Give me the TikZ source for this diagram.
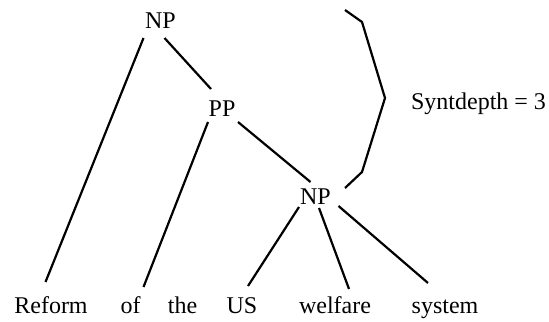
\documentclass[tikz,border=0pt]{standalone}
\usepackage{fontspec}
\setmainfont{Liberation Serif}
\usepackage{tikz}
\usetikzlibrary{calc}

\begin{document}
\begin{tikzpicture}[x=0.5pt,y=-0.5pt,line width=1.1pt,
  every node/.style={font=\fontsize{12pt}{14pt}\selectfont,inner sep=0pt,anchor=base}]
\useasboundingbox (0,0) rectangle (549,321);
\node (np) at (160.5,28) {NP};
\node (pp) at (222,116) {PP};
\node (np2) at (315.5,204) {NP};
\node (reform) at (51,313) {Reform};
\node (of) at (130.5,313) {of};
\node (the) at (182.5,313) {the};
\node (us) at (242,313) {US};
\node (welfare) at (335,313) {welfare};
\node (system) at (445,313) {system};
\node[anchor=base west] (depth) at (410,109) {Syntdepth = 3};
\draw ($(np.base)+(-17,10)$) -- ($(reform.base)+(-5.5,-31)$);
\draw ($(np.base)+(4,10)$) -- ($(pp.base)+(-11,-27)$);
\draw ($(pp.base)+(-14,6)$) -- ($(of.base)+(13,-26)$);
\draw ($(pp.base)+(16,6)$) -- ($(np2.base)+(-5,-22)$);
\draw ($(np2.base)+(-16.5,3)$) -- ($(us.base)+(6,-27)$);
\draw ($(np2.base)+(3.5,4)$) -- ($(welfare.base)+(14,-24)$);
\draw ($(np2.base)+(23,2)$) -- ($(system.base)+(-17,-30)$);
\draw (345,10) -- (362,22) -- (385,98) -- (362,172) -- (345,188);
\end{tikzpicture}
\end{document}
